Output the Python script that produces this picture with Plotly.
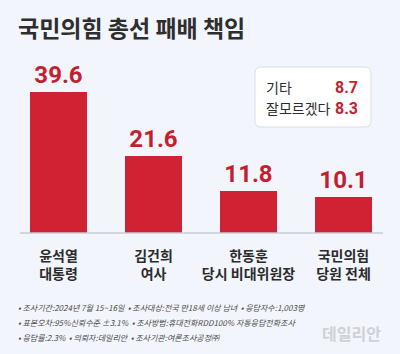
import plotly.graph_objects as go

categories = ["윤석열<br>대통령", "김건희<br>여사", "한동훈<br>당시 비대위원장", "국민의힘<br>당원 전체"]
values = [39.6, 21.6, 11.8, 10.1]
other_labels = ["기타", "잘모르겠다"]
other_values = [8.7, 8.3]
title = "국민의힘 총선 패배 책임"
notes = [
    "• 조사기간:2024년 7월 15~16일  • 조사대상:전국 만18세 이상 남녀  • 응답자수:1,003명",
    "• 표본오차:95%신뢰수준 ±3.1%  • 조사방법:휴대전화RDD100% 자동응답전화조사",
    "• 응답률:2.3%  • 의뢰자:데일리안  • 조사기관:여론조사공정㈜",
]

W, H = 400, 354
BG = "#f2f5fb"
RED = "#cf2233"
TXTRED = "#c41f30"
KR = "Noto Sans CJK KR"
NUM = "Liberation Sans Narrow, Roboto, sans-serif"

def px(x):
    return x / W

def py(y):
    return 1 - y / H

fig = go.Figure()
fig.add_trace(go.Bar(
    x=list(range(len(categories))), y=values, width=0.6,
    marker=dict(color=RED, line=dict(width=0)),
    text=[f"<b>{v:.1f}</b>" for v in values], textposition="outside",
    textfont=dict(family=NUM, size=24, color=TXTRED),
    cliponaxis=False, hoverinfo="skip",
))

fig.update_layout(
    width=W, height=H, margin=dict(l=0, r=0, t=0, b=0),
    paper_bgcolor=BG, plot_bgcolor=BG, showlegend=False,
    xaxis=dict(domain=[px(11), px(391)], range=[-0.5, 3.5],
               tickvals=list(range(len(categories))),
               ticktext=[f"<b>{c.replace('<br>', '</b><br><b>')}</b>" for c in categories],
               tickfont=dict(family=KR, size=14, color="#2b2b2b"),
               showgrid=False, zeroline=False, showline=False,
               ticks="", ticklabelstandoff=13),
    yaxis=dict(domain=[py(233), py(72.8)], range=[0, 45], visible=False),
)

# baseline
fig.add_shape(type="line", xref="paper", yref="paper",
              x0=px(20), x1=px(383), y0=py(233), y1=py(233),
              line=dict(color="#c9ccd3", width=1.5))

# title
fig.add_annotation(text=f"<b>{title}</b>", xref="paper", yref="paper",
                   x=px(16), y=py(27), xanchor="left", yanchor="middle",
                   showarrow=False, font=dict(family=KR, size=23, color="#2e2e2e"))

def rrp(a, b, c, d, rad):
    return ("M {} {} L {} {} Q {} {} {} {} L {} {} Q {} {} {} {} L {} {} Q {} {} {} {} L {} {} Q {} {} {} {} Z".format(
        px(a+rad), py(b), px(c-rad), py(b), px(c), py(b), px(c), py(b+rad),
        px(c), py(d-rad), px(c), py(d), px(c-rad), py(d),
        px(a+rad), py(d), px(a), py(d), px(a), py(d-rad),
        px(a), py(b+rad), px(a), py(b), px(a+rad), py(b)))
fig.add_shape(type="path", xref="paper", yref="paper",
              path=rrp(255, 67, 371, 127, 6), fillcolor="white",
              line=dict(color="#dcdde2", width=1))

for i, (lab, val) in enumerate(zip(other_labels, other_values)):
    yy = 87 + i * 21.5
    fig.add_annotation(text=lab, xref="paper", yref="paper", x=px(264), y=py(yy),
                       xanchor="left", yanchor="middle", showarrow=False,
                       font=dict(family=KR, size=14, color="#2b2b2b"))
    fig.add_annotation(text=f"<b>{val:.1f}</b>", xref="paper", yref="paper", x=px(360), y=py(yy),
                       xanchor="right", yanchor="middle", showarrow=False,
                       font=dict(family=NUM, size=16, color=TXTRED))

for i, line in enumerate(notes):
    fig.add_annotation(text=f"<i>{line}</i>", xref="paper", yref="paper",
                       x=px(16), y=py(307 + i * 15), xanchor="left", yanchor="middle",
                       showarrow=False, font=dict(family=KR, size=8, color="#4a4a4a"))

fig.add_annotation(text="<b>데일리안</b>", xref="paper", yref="paper", x=px(383), y=py(333),
                   xanchor="right", yanchor="middle", showarrow=False,
                   font=dict(family=KR, size=16, color="#cfd1d6"))

fig.write_html("out.html")
